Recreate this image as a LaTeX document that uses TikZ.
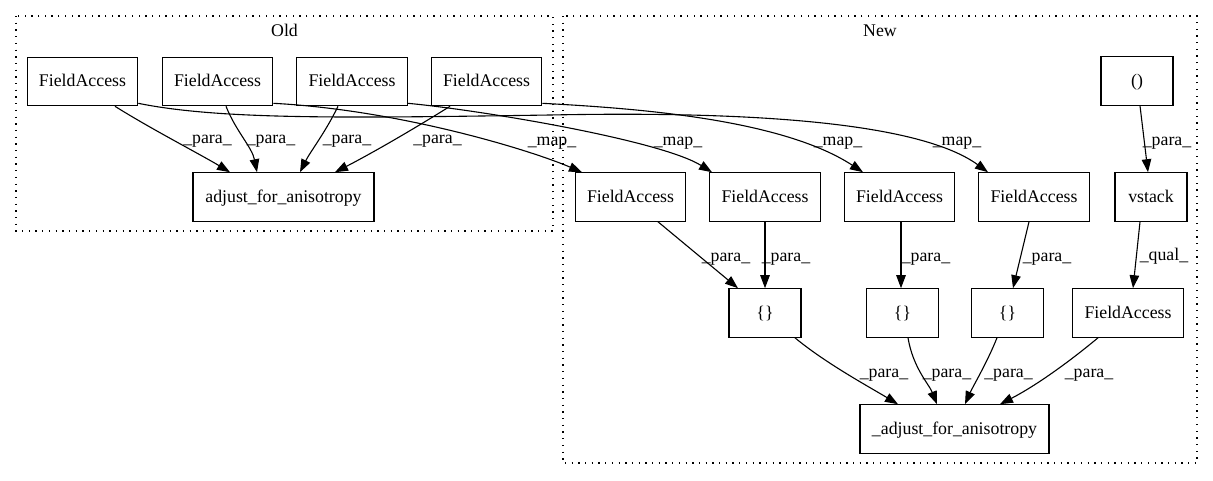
\documentclass[tikz,border=0pt]{standalone}
\usepackage{fontspec}
\setmainfont{Liberation Serif}
\usetikzlibrary{arrows.meta,calc}
\begin{document}
\begin{tikzpicture}[x=1pt,y=-1pt,
  box/.style={draw, line width=1.1pt, rectangle, minimum height=48.5pt, inner sep=0pt, font=\fontsize{17.8}{20}\selectfont, text height=12.5pt, text depth=2.1pt},
  fa/.style={box, minimum width=110.5pt},
  sm/.style={box, minimum width=72pt},
  lbl/.style={font=\fontsize{17.8}{20}\selectfont, inner sep=0pt, text height=12.5pt, text depth=2.1pt},
  edge/.style={line width=1.1pt, -{Triangle[length=13pt,width=9.5pt]}},
  cluster/.style={line width=1.1pt, dash pattern=on 1.3pt off 5.4pt},
]
\useasboundingbox (0,0) rectangle (1213,480);

% clusters
\draw[cluster] (16,16) rectangle (553,231);
\draw[cluster] (563,16) rectangle (1197,463);
\node[lbl] (oldlbl) at (284.5,31) {Old};
\node[lbl] (newlbl) at (880,31) {New};

% Old nodes
\node[fa] (ofa1) at (82.5,81.5) {FieldAccess};
\node[fa] (ofa2) at (217.5,81.5) {FieldAccess};
\node[fa] (ofa3) at (352,81.5) {FieldAccess};
\node[fa] (ofa4) at (486.5,81.5) {FieldAccess};
\node[box, minimum width=181pt] (oadj) at (283.5,197) {adjust\_for\_anisotropy};

% New nodes
\node[sm] (unit) at (1137,81) {()};
\node[fa] (nfa1) at (630.5,197) {FieldAccess};
\node[fa] (nfa2) at (765,197) {FieldAccess};
\node[fa] (nfa3) at (899.5,197) {FieldAccess};
\node[fa] (nfa4) at (1034,197) {FieldAccess};
\node[sm] (vst) at (1151,197) {vstack};
\node[sm] (br1) at (765,313) {\{\}};
\node[sm] (br2) at (902.5,313) {\{\}};
\node[sm] (br3) at (1007.5,313) {\{\}};
\node[fa] (nfa5) at (1128,313) {FieldAccess};
\node[box, minimum width=189pt] (nadj) at (954.5,429) {\_adjust\_for\_anisotropy};

% Old para edges
\draw[edge] ($(ofa1.south)+(32.5,0)$) .. controls +(35,22) and +(-30,-18) .. ($(oadj.north)+(-53.5,0)$);
\draw[edge] ($(ofa2.south)+(8.5,0)$) .. controls +(10,25) and +(-5,-25) .. ($(oadj.north)+(-26.5,0)$);
\draw[edge] ($(ofa3.south)+(-14,0)$) .. controls +(-12,25) and +(10,-20) .. ($(oadj.north)+(16.5,0)$);
\draw[edge] ($(ofa4.south)+(-36.5,0)$) .. controls +(-40,25) and +(35,-18) .. ($(oadj.north)+(51.5,0)$);
\node[lbl] (lo1) at (207.5,138) {\_para\_};
\node[lbl] (lo2) at (271,138) {\_para\_};
\node[lbl] (lo3) at (347,138) {\_para\_};
\node[lbl] (lo4) at (437.5,138) {\_para\_};

% map edges
\draw[edge] ($(ofa2.south east)+(0,-3)$) .. controls (400,110) and (530,150) .. ($(nfa1.north)+(-48.5,0)$);
\draw[edge] ($(ofa3.south east)+(0,-3)$) .. controls (480,110) and (660,140) .. ($(nfa2.north)+(-53,0)$);
\draw[edge] ($(ofa4.south east)+(0,-3)$) .. controls (630,108) and (780,118) .. ($(nfa3.north)+(-36.5,0)$);
\draw[edge] ($(ofa1.south east)+(0,-3)$) .. controls (220,120) and (350,118) .. (550,115) .. controls (800,110) and (930,130) .. ($(nfa4.north)+(-46,0)$);
\node[lbl] (lm1) at (552,140) {\_map\_};
\node[lbl] (lm2) at (678,140) {\_map\_};
\node[lbl] (lm3) at (838,140) {\_map\_};
\node[lbl] (lm4) at (957,140) {\_map\_};

% New edges
\draw[edge] ($(unit.south)+(3,0)$) -- ($(vst.north)+(-3,0)$);
\node[lbl] (ln0) at (1167,140) {\_para\_};
\draw[edge] ($(vst.south)+(-11,0)$) -- ($(nfa5.north)+(5,0)$);
\node[lbl] (lq) at (1164,255) {\_qual\_};
\draw[edge] ($(nfa1.south)+(27.5,0)$) -- ($(br1.north)+(-27,0)$);
\draw[edge] (nfa2.south) -- (br1.north);
\draw[edge] ($(nfa3.south)+(1.5,0)$) -- ($(br2.north)+(-1.5,0)$);
\draw[edge] ($(nfa4.south)+(-5,0)$) -- ($(br3.north)+(5.5,0)$);
\node[lbl] (ln1) at (726,256) {\_para\_};
\node[lbl] (ln2) at (786,256) {\_para\_};
\node[lbl] (ln3) at (926,256) {\_para\_};
\node[lbl] (ln4) at (1047,256) {\_para\_};

\draw[edge] ($(br1.south)+(30,0)$) .. controls +(30,25) and +(-30,-18) .. ($(nadj.north)+(-56.5,0)$);
\draw[edge] ($(br2.south)+(5.5,0)$) .. controls +(5,30) and +(-8,-20) .. ($(nadj.north)+(-17.5,0)$);
\draw[edge] ($(br3.south)+(-10.5,0)$) .. controls +(-10,25) and +(8,-18) .. ($(nadj.north)+(10.5,0)$);
\draw[edge] ($(nfa5.south)+(-30,0)$) .. controls +(-30,25) and +(35,-18) .. ($(nadj.north)+(45.5,0)$);
\node[lbl] (lb1) at (884,372) {\_para\_};
\node[lbl] (lb2) at (947,372) {\_para\_};
\node[lbl] (lb3) at (1008.5,372) {\_para\_};
\node[lbl] (lb4) at (1089,372) {\_para\_};
\end{tikzpicture}
\end{document}
